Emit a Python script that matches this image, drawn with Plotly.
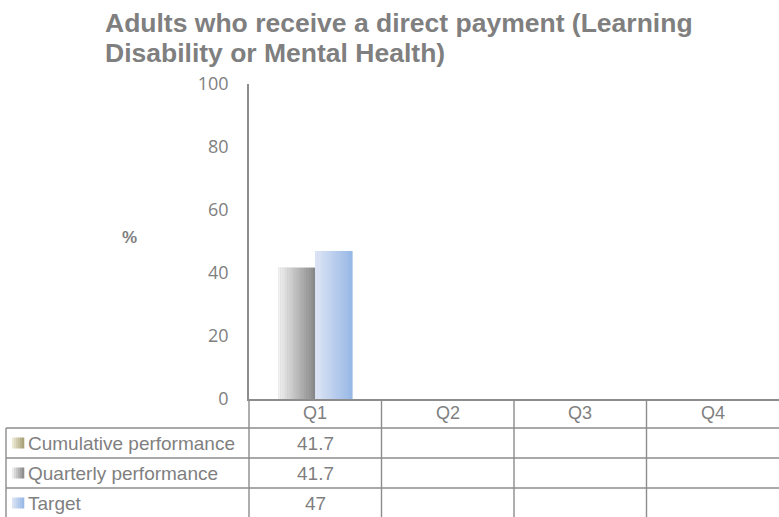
import plotly.graph_objects as go

# ---------------- data ----------------
CATEGORIES = ["Q1", "Q2", "Q3", "Q4"]
SERIES_NAMES = ["Cumulative performance", "Quarterly performance", "Target"]
CUMULATIVE = [41.7, None, None, None]
QUARTERLY = [41.7, None, None, None]
TARGET = [47, None, None, None]
Y_TICKS = [0, 20, 40, 60, 80, 100]
TITLE_LINES = ["Adults who receive a direct payment (Learning", "Disability or Mental Health)"]
Y_TITLE = "%"

# ---------------- geometry (pixels) ----------------
W, H = 779, 517
L, R, T, B = 249, 779, 84, 399
FONT = "Liberation Sans, Arial, sans-serif"
TXT = "#7f7f7f"
LINE = "#8c8c8c"


def xp(px):
    return (px - L) / (R - L)


def yp(py):
    return (B - py) / (B - T)


def lerp_color(c1, c2, t):
    a = [int(c1[i:i + 2], 16) for i in (1, 3, 5)]
    b = [int(c2[i:i + 2], 16) for i in (1, 3, 5)]
    return "#" + "".join(f"{round(a[k] + (b[k] - a[k]) * t):02x}" for k in range(3))


GRADS = {
    "Cumulative performance": ("#f2f0dc", "#a59d72"),
    "Quarterly performance": ("#f4f4f4", "#858585"),
    "Target": ("#e0e7f5", "#95b6e6"),
}

BAR_W = 0.28
N_SLICES = 16

fig = go.Figure()

# Cumulative performance is charted as a line series (single point -> nothing visible)
fig.add_trace(go.Scatter(x=CATEGORIES, y=CUMULATIVE, name=SERIES_NAMES[0], mode="lines",
                         line=dict(color="#a59d72", width=2), showlegend=False))

for vals, name, off in [(QUARTERLY, SERIES_NAMES[1], -BAR_W), (TARGET, SERIES_NAMES[2], 0.0)]:
    c1, c2 = GRADS[name]
    fig.add_trace(go.Bar(x=CATEGORIES, y=vals, name=name, width=BAR_W, offset=off,
                         marker=dict(color=lerp_color(c1, c2, 0.5), line=dict(width=0)),
                         showlegend=False))
    sw = BAR_W / N_SLICES
    for i in range(N_SLICES):
        fig.add_trace(go.Bar(x=CATEGORIES, y=vals, width=sw * 1.05, offset=off + i * sw,
                             marker=dict(color=lerp_color(c1, c2, (i + 0.5) / N_SLICES), line=dict(width=0)),
                             showlegend=False, hoverinfo="skip"))

shapes = []
ann = []

# title
for i, line in enumerate(TITLE_LINES):
    ann.append(dict(text=f"<b>{line}</b>", xref="paper", yref="paper", x=xp(103), y=yp(23 + 30 * i),
                    xanchor="left", yanchor="middle", showarrow=False,
                    font=dict(family=FONT, size=26.5, color=TXT)))

# y-axis title
ann.append(dict(text=f"<b>{Y_TITLE}</b>", xref="paper", yref="paper", x=xp(129), y=yp(237),
                xanchor="center", yanchor="middle", showarrow=False,
                font=dict(family=FONT, size=17, color=TXT)))

# ---------- data table ----------
ROW_TOP = [428, 458, 488]
ROW_H = 30
BOTTOM = 530
line_style = dict(color=LINE, width=1.4)

# horizontal row lines
for yy in ROW_TOP:
    shapes.append(dict(type="line", xref="paper", yref="paper", x0=xp(6), x1=1, y0=yp(yy), y1=yp(yy),
                       line=line_style))
# left border of label column
shapes.append(dict(type="line", xref="paper", yref="paper", x0=xp(6), x1=xp(6), y0=yp(ROW_TOP[0]),
                   y1=yp(BOTTOM), line=line_style))
# vertical line at the axis
shapes.append(dict(type="line", xref="paper", yref="paper", x0=0, x1=0, y0=0, y1=yp(BOTTOM),
                   line=line_style))
# category boundaries
for k in range(len(CATEGORIES) - 1):
    shapes.append(dict(type="line", xref="x", yref="paper", x0=k + 0.5, x1=k + 0.5, y0=0,
                       y1=yp(BOTTOM), line=line_style))

# category headers
for c in CATEGORIES:
    ann.append(dict(text=c, xref="x", yref="paper", x=c, y=yp(413), xanchor="center", yanchor="middle",
                    showarrow=False, font=dict(family=FONT, size=18, color=TXT)))

series_vals = [CUMULATIVE, QUARTERLY, TARGET]
for r, (name, vals) in enumerate(zip(SERIES_NAMES, series_vals)):
    cy = ROW_TOP[r] + ROW_H / 2
    # legend key with gradient
    c1, c2 = GRADS[name]
    kx0, kx1 = 12, 24
    nk = 6
    for j in range(nk):
        shapes.append(dict(type="rect", xref="paper", yref="paper",
                           x0=xp(kx0 + (kx1 - kx0) * j / nk), x1=xp(kx0 + (kx1 - kx0) * (j + 1) / nk + 0.3),
                           y0=yp(cy - 5.5), y1=yp(cy + 5.5),
                           fillcolor=lerp_color(c1, c2, (j + 0.5) / nk), line=dict(width=0)))
    ann.append(dict(text=name, xref="paper", yref="paper", x=xp(26), y=yp(cy), xanchor="left",
                    yanchor="middle", showarrow=False, font=dict(family=FONT, size=19, color=TXT)))
    for c, v in zip(CATEGORIES, vals):
        if v is not None:
            ann.append(dict(text=f"{v:g}", xref="x", yref="paper", x=c, y=yp(cy), xanchor="center",
                            yanchor="middle", showarrow=False, font=dict(family=FONT, size=19, color=TXT)))

fig.update_layout(
    width=W, height=H,
    margin=dict(l=L, r=W - R, t=T, b=H - B, pad=0),
    paper_bgcolor="white", plot_bgcolor="white",
    barmode="overlay", showlegend=False,
    shapes=shapes, annotations=ann,
    xaxis=dict(type="category", categoryorder="array", categoryarray=CATEGORIES, range=[-0.5, 3.5],
               showline=True, linecolor=LINE, linewidth=1.5, showgrid=False, zeroline=False,
               ticks="", showticklabels=False, fixedrange=True),
    yaxis=dict(range=[0, 100], tickvals=Y_TICKS, showline=True, linecolor=LINE, linewidth=1.5,
               showgrid=False, zeroline=False, ticks="", ticklabelstandoff=15,
               tickfont=dict(family="Open Sans, Liberation Sans, sans-serif", size=18, color=TXT),
               fixedrange=True),
)

fig.write_html("out.html", config={"displayModeBar": False},
               post_script="document.body.style.margin='0';")
